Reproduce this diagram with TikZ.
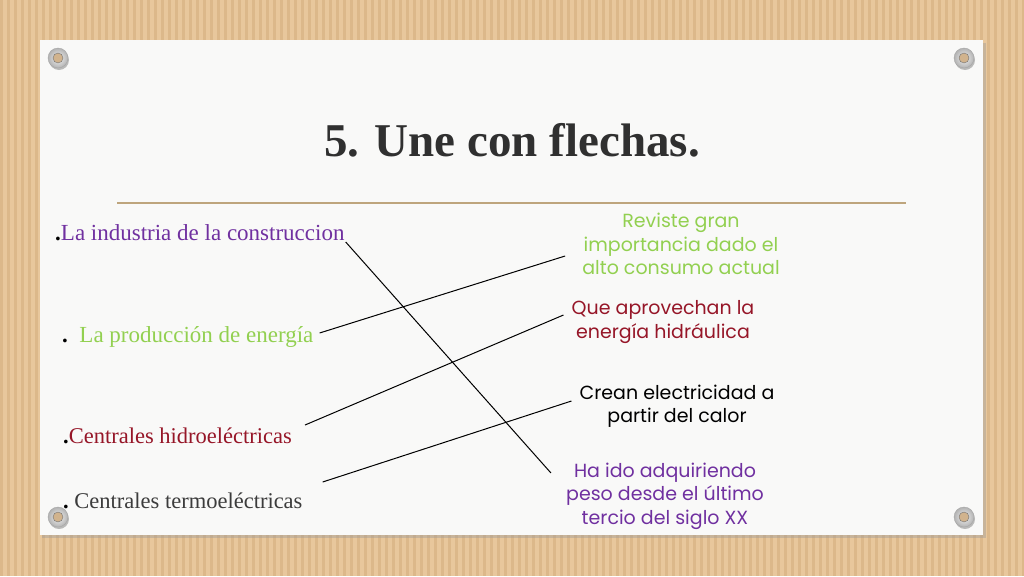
\documentclass[tikz,border=0pt]{standalone}
\usepackage{fontspec}
\setmainfont{Liberation Serif}
\newfontfamily\gothic{Poppins}
\definecolor{carton}{RGB}{232,199,156}
\definecolor{cartonraya}{RGB}{220,184,138}
\definecolor{hoja}{RGB}{249,249,248}
\definecolor{lila}{RGB}{112,48,160}
\definecolor{verde}{RGB}{146,208,80}
\definecolor{granate}{RGB}{150,22,40}
\definecolor{grafito}{RGB}{60,60,60}
\definecolor{regla}{RGB}{190,165,125}
\newcommand{\punto}{{\color{black}\bfseries.}}
\tikzset{
	izq/.style={anchor=base west, inner sep=0pt, font=\fontsize{22.5}{27}\selectfont},
	izqancho/.style={izq, font=\fontsize{23}{27}\selectfont},
	der/.style={align=center, inner sep=0pt, font=\gothic\fontsize{19}{23.5}\selectfont},
	union/.style={black, line width=1pt},
}
\begin{document}
\begin{tikzpicture}[x=1pt,y=-1pt]
	\useasboundingbox (0,0) rectangle (1024,576);
	\fill[carton] (0,0) rectangle (1024,576);
	\foreach \x in {0,7,...,1022}
		\fill[cartonraya] (\x,0) rectangle +(3,576);
	\fill[black!40, opacity=.4] (42,43) rectangle (986,538);
	\fill[hoja] (40,40) rectangle (983,535);
	\foreach \p in {(58,58),(964,58),(58,517),(964,517)} {
		\fill[black, opacity=.25] \p ++(1,2) circle (10pt);
		\shade[inner color=gray!10, outer color=gray!60] \p circle (10pt);
		\draw[gray!70] \p circle (10pt);
		\fill[carton!90!black] \p circle (5pt);
		\draw[gray!90!black] \p circle (5pt);
	}
	\node[font=\bfseries\fontsize{47}{50}\selectfont, text=grafito!80!black] (title) at (512,140) {5. Une con flechas.};
	\draw[regla, line width=1.5pt] (117,203) -- (906,203);
	\node[izqancho, text=lila] (ind) at (55,240) {\punto La industria de la construccion};
	\node[izqancho, text=verde] (prod) at (62,342) {\punto\ \ La producción de energía};
	\node[izq, text=granate] (hidro) at (63,443) {\punto Centrales hidroeléctricas};
	\node[izq, text=grafito] (termo) at (63,508) {\punto\ Centrales termoeléctricas};
	\node[der, text=verde] (revi) at (681,244) {Reviste gran\\importancia dado el\\alto consumo actual};
	\node[der, text=granate] (aprov) at (663,322) {Que aprovechan la\\energía hidráulica};
	\node[der, text=black] (crean) at (677,406) {Crean electricidad a\\partir del calor};
	\node[der, text=lila] (adq) at (665,496) {Ha ido adquiriendo\\peso desde el último\\tercio del siglo XX};
	\draw[union] ([shift={(1,2)}]ind.base east) -- ([shift={(-15,-23)}]adq.west);
	\draw[union] ([shift={(6,-9)}]prod.base east) -- ([shift={(-17,12)}]revi.west);
	\draw[union] ([shift={(13,-18)}]hidro.base east) -- ([shift={(-8,-7)}]aprov.west);
	\draw[union] ([shift={(20,-26)}]termo.base east) -- ([shift={(-8,-5)}]crean.west);
\end{tikzpicture}
\end{document}
